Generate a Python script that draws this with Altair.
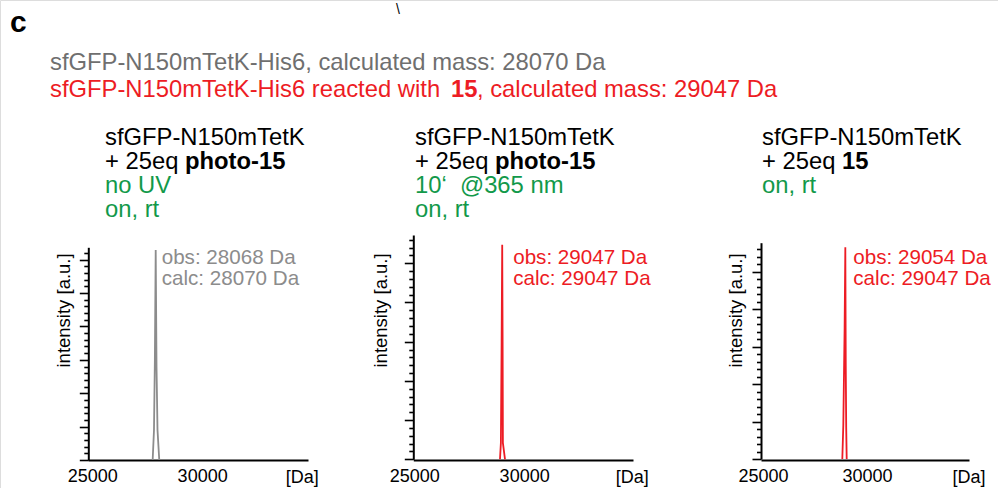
import altair as alt
import pandas as pd

FONT = "Liberation Sans"
BLACK = "#000000"
GRAY_TEXT = "#6f6f6f"
GRAY_TRACE = "#8c8c8c"
RED = "#ed1c24"
GREEN = "#12994a"

# Deconvoluted ESI-MS traces: mass [Da] and intensity [a.u.]
MASS_NO_UV = [27930, 27990, 28030, 28068, 28105, 28150, 28230]
INT_NO_UV = [0.0, 0.9, 3.0, 6.29, 2.8, 0.9, 0.0]

MASS_UV = [28946, 28987, 29020, 29047, 29065, 29078, 29174]
INT_UV = [0.0, 0.42, 3.0, 5.47, 3.0, 0.42, 0.0]

MASS_DIRECT = [28909, 28957, 29020, 29054, 29075, 29096, 29120]
INT_DIRECT = [0.0, 0.9, 3.5, 5.65, 2.5, 0.85, 0.0]

# Axis extents and tick labels
X_DOMAIN = [25000, 35000]
X_TICKS = [25000, 30000]
Y_TOPS = [6.37, 5.72, 5.77]

# Peak annotations
OBS_MASS = [28068, 29047, 29054]
OBS_LABELS = ["obs: 28068 Da", "obs: 29047 Da", "obs: 29054 Da"]
CALC_LABELS = ["calc: 28070 Da", "calc: 29047 Da", "calc: 29047 Da"]

# Figure text
PANEL_LETTER = "c"
HEADER_GRAY = "sfGFP-N150mTetK-His6, calculated mass: 28070 Da"
HEADER_RED = ["sfGFP-N150mTetK-His6 reacted with", "15", ", calculated mass: 29047 Da"]
SAMPLE = "sfGFP-N150mTetK"
REAGENT_PREFIX = "+ 25eq"
REAGENTS = ["photo-15", "photo-15", "15"]
CONDITIONS = [["no UV", "on, rt"], ["10\u2018\u00a0 @365 nm", "on, rt"], ["on, rt"]]

TEXT_SIZE = 23.8


def note(text, x, y, size, color=BLACK, bold=False):
    return alt.Chart(pd.DataFrame({"t": [text]})).mark_text(
        align="left", baseline="alphabetic", font=FONT, fontSize=size,
        fontWeight="bold" if bold else "normal", color=color,
    ).encode(x=alt.value(x), y=alt.value(y), text="t:N")


def spectrum(mass, inten, color, label_color, x_px, y_px, y_top,
             title_x, label_shift, da_x, peak, obs, calc, obs_dx):
    xscale = alt.Scale(domain=X_DOMAIN, range=x_px, nice=False, zero=False)
    yscale = alt.Scale(domain=[0, y_top], range=y_px, nice=False, zero=True)
    y_ticks = [round(0.2 * k, 1) for k in range(int(y_top / 0.2 + 1e-9) + 1)]

    x_axis = alt.Axis(
        orient="bottom", offset=-28, values=X_TICKS, format="d", grid=False,
        ticks=False, domainColor=BLACK, domainWidth=2,
        labelFont=FONT, labelFontSize=18, labelColor=BLACK,
        labelPadding=21.5, labelBaseline="alphabetic", labelOffset=label_shift,
        labelFlush=False, labelOverlap=False,
        title="[Da]", titleX=da_x, titleY=22, titleAlign="right",
        titleBaseline="alphabetic", titleAngle=0, titleFont=FONT,
        titleFontSize=18, titleFontWeight="normal", titleColor=BLACK,
    )
    y_axis = alt.Axis(
        orient="left", offset=-x_px[0], values=y_ticks, labels=False, grid=False,
        domainColor=BLACK, domainWidth=2, tickColor=BLACK, tickWidth=1.6,
        tickSize={"condition": {"test": "abs(datum.value - round(datum.value)) < 0.01",
                                "value": 9}, "value": 4.5},
        title="intensity [a.u.]", titleX=title_x, titleY=367, titleAngle=270,
        titleAlign="left", titleBaseline="alphabetic", titleFont=FONT,
        titleFontSize=18.5, titleFontWeight="normal", titleColor=BLACK,
    )
    x_enc = alt.X("mass:Q", scale=xscale, axis=x_axis)

    trace = alt.Chart(pd.DataFrame({"mass": mass, "intensity": inten})).mark_line(
        color=color, strokeWidth=1.8
    ).encode(x=x_enc, y=alt.Y("intensity:Q", scale=yscale, axis=y_axis))

    def peak_label(text, y):
        return alt.Chart(pd.DataFrame({"mass": [peak], "t": [text]})).mark_text(
            align="left", baseline="alphabetic", font=FONT, fontSize=20.6,
            color=label_color, dx=obs_dx,
        ).encode(x=x_enc, y=alt.value(y), text="t:N")

    return alt.layer(trace, peak_label(obs, 264), peak_label(calc, 284.5))


panels = [
    spectrum(MASS_NO_UV, INT_NO_UV, GRAY_TRACE, GRAY_TRACE, [88.3, 308], [460, 247.3],
             Y_TOPS[0], -18.8, 4, 318.3, OBS_MASS[0], OBS_LABELS[0], CALC_LABELS[0], 6),
    spectrum(MASS_UV, INT_UV, RED, RED, [413.3, 633], [459.3, 235],
             Y_TOPS[1], -27.1, 1, 648.3, OBS_MASS[1], OBS_LABELS[1], CALC_LABELS[1], 11),
    spectrum(MASS_DIRECT, INT_DIRECT, RED, RED, [761, 969], [459, 242.7],
             Y_TOPS[2], -19.8, 2, 985, OBS_MASS[2], OBS_LABELS[2], CALC_LABELS[2], 8),
]

texts = [
    note(PANEL_LETTER, 10, 31.5, 30, bold=True),
    note("\\", 396, 13.5, 14),
    note(HEADER_GRAY, 50, 69.5, TEXT_SIZE, color=GRAY_TEXT),
    note(HEADER_RED[0], 50, 97, TEXT_SIZE, color=RED),
    note(HEADER_RED[1], 451, 97, TEXT_SIZE, color=RED, bold=True),
    note(HEADER_RED[2], 477, 97, TEXT_SIZE, color=RED),
]

baselines = [145, 169, 193, 217]
for x0, reagent, conds in zip([105, 415, 762], REAGENTS, CONDITIONS):
    texts.append(note(SAMPLE, x0, baselines[0], TEXT_SIZE))
    texts.append(note(REAGENT_PREFIX, x0, baselines[1], TEXT_SIZE))
    texts.append(note(reagent, x0 + 80, baselines[1], TEXT_SIZE, bold=True))
    for line, y in zip(conds, baselines[2:]):
        texts.append(note(line, x0, y, TEXT_SIZE, color=GREEN))

chart = alt.layer(*panels, *texts).resolve_scale(
    x="independent", y="independent"
).properties(
    width=998, height=488, padding=0,
    autosize=alt.AutoSizeParams(type="none"),
).configure_view(strokeWidth=0).configure(font=FONT, background="white")

chart.save("out.html", embed_options={"renderer": "svg", "actions": False})
